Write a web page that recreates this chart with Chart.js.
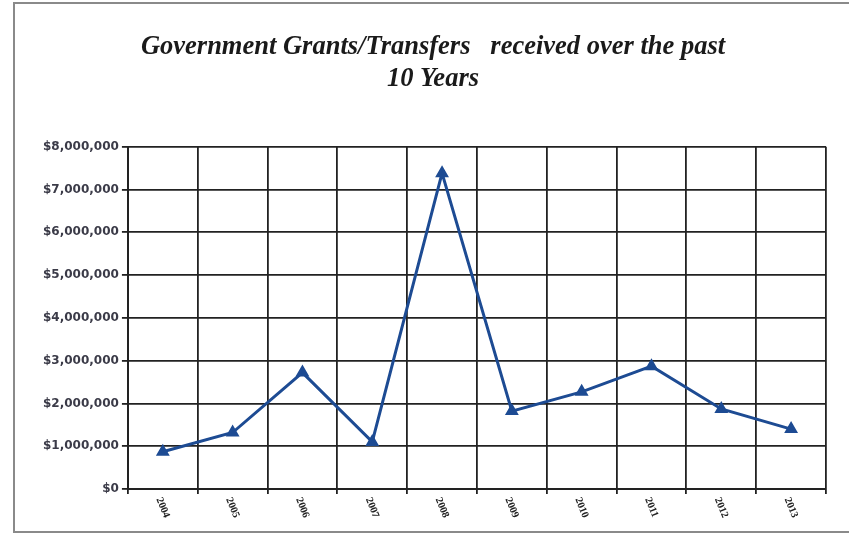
<!DOCTYPE html>
<html>
<head>
<meta charset="utf-8">
<script src="https://cdn.jsdelivr.net/npm/chart.js@4/dist/chart.umd.min.js"></script>
<style>
  html, body { margin: 0; padding: 0; background: #fff; }
  canvas { display: block; }
</style>
</head>
<body>
<canvas id="myChart" width="849" height="537"></canvas>
<script>
// values
var years = ['2004', '2005', '2006', '2007', '2008', '2009', '2010', '2011', '2012', '2013'];
var grants = [870000, 1320000, 2720000, 1100000, 7380000, 1820000, 2270000, 2870000, 1870000, 1400000];
var yTicks = [0, 1000000, 2000000, 3000000, 4000000, 5000000, 6000000, 7000000, 8000000];
var titleLines = ['Government Grants/Transfers   received over the past', '10 Years'];

var serif = "'Liberation Serif', 'DejaVu Serif', serif";
var sans = "'DejaVu Sans', sans-serif";

// frame round the whole picture
var framePlugin = {
    id: 'frame',
    beforeDraw: function (chart) {
        var c = chart.ctx;
        c.save();
        c.fillStyle = '#fff';
        c.fillRect(0, 0, chart.width, chart.height);
        c.strokeStyle = '#8a8a8a';
        c.lineWidth = 2;
        c.strokeRect(14, 3, chart.width, 529);
        c.restore();
    }
};

// x labels turned clockwise, as in the scan
var xLabelPlugin = {
    id: 'xlabels',
    afterDraw: function (chart) {
        var c = chart.ctx;
        var xs = chart.scales.x;
        c.save();
        c.font = 'bold 10.5px ' + serif;
        c.fillStyle = '#222';
        c.textAlign = 'left';
        c.textBaseline = 'middle';
        years.forEach(function (y, i) {
            var px = xs.getPixelForValue(i);
            c.save();
            c.translate(px - 4, xs.top + 9);
            c.rotate(68 * Math.PI / 180);
            c.fillText(y, 0, 0);
            c.restore();
        });
        c.restore();
    }
};

var ctx = document.getElementById('myChart').getContext('2d');
var myChart = new Chart(ctx, {
    type: 'line',
    data: {
        labels: years,
        datasets: [{
            data: grants,
            borderColor: '#1d4b93',
            backgroundColor: '#1d4b93',
            borderWidth: 3,
            tension: 0,
            pointStyle: 'triangle',
            pointRadius: 5,
            pointHoverRadius: 5,
        }],
    },
    options: {
        responsive: false,
        animation: false,
        layout: {
            padding: { left: 40, right: 23, top: 0, bottom: 43 },
        },
        plugins: {
            legend: { display: false },
            tooltip: { enabled: false },
            title: {
                display: true,
                text: titleLines,
                color: '#1a1a1a',
                font: { family: serif, size: 26.5, style: 'italic', weight: 'bold', lineHeight: 1.22 },
                padding: { top: 31, bottom: 51 },
            },
        },
        scales: {
            x: {
                offset: true,
                grid: {
                    offset: true,
                    color: '#222',
                    lineWidth: 1.8,
                    tickLength: 5,
                },
                border: { color: '#222', width: 2 },
                ticks: { display: false },
            },
            y: {
                min: 0,
                max: 8000000,
                afterBuildTicks: function (axis) {
                    axis.ticks = yTicks.map(function (v) { return { value: v }; });
                },
                grid: {
                    color: '#222',
                    lineWidth: 1.8,
                    tickLength: 6,
                },
                border: { color: '#222', width: 2 },
                ticks: {
                    color: '#3b3b48',
                    padding: 3,
                    font: { family: sans, size: 12, weight: 'bold' },
                    callback: function (v) { return '$' + Number(v).toLocaleString('en-US'); },
                },
            },
        },
    },
    plugins: [framePlugin, xLabelPlugin],
});
</script>
</body>
</html>
